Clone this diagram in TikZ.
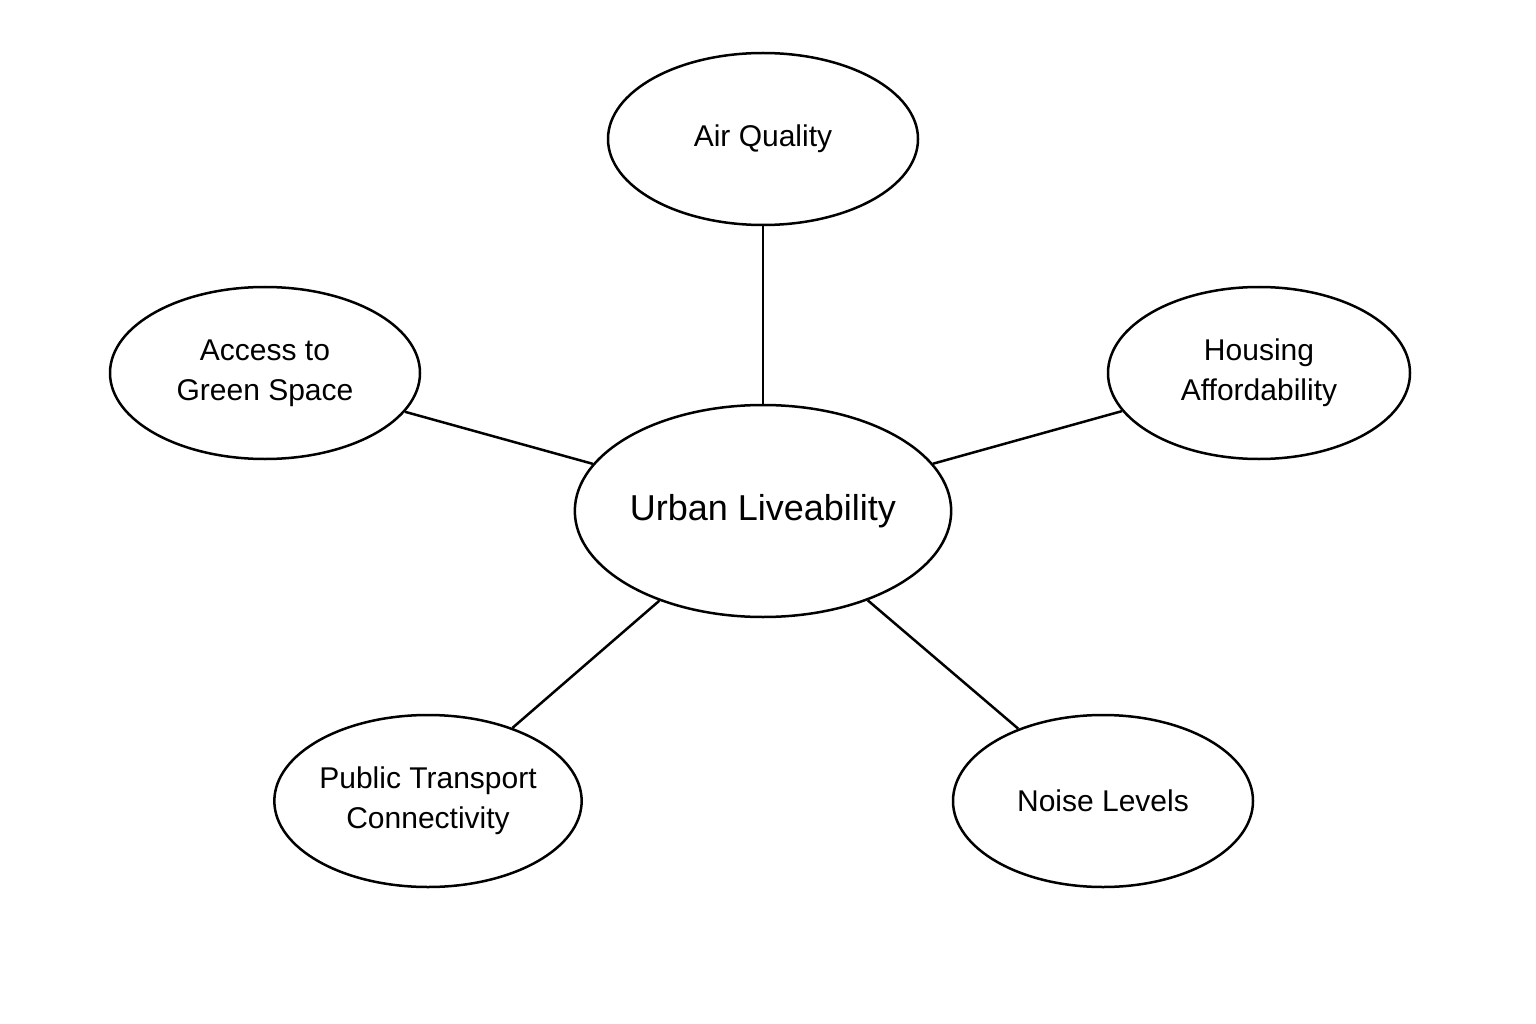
\documentclass[tikz,border=0pt]{standalone}
\usepackage{fontspec}
\setmainfont{Liberation Sans}
\usetikzlibrary{shapes.geometric}
\begin{document}
\begin{tikzpicture}[x=1pt,y=-1pt,
  el/.style={ellipse,draw,line width=2.5pt,inner sep=0pt,align=center,font=\fontsize{30}{40}\selectfont},
  ln/.style={line width=2.5pt}]
\useasboundingbox (0,0) rectangle (1536,1024);
\node[el,minimum width=310pt,minimum height=172pt] (air) at (763,139) {Air Quality};
\node[el,minimum width=310pt,minimum height=172pt] (green) at (265,373) {Access to\\Green Space};
\node[el,minimum width=302pt,minimum height=172pt] (house) at (1259,373) {Housing\\Affordability};
\node[el,minimum width=360pt,minimum height=212pt,font=\fontsize{36}{44}\selectfont] (c) at (763,511) {Urban Liveability};
\node[el,minimum width=306pt,minimum height=172pt] (pt) at (428,801) {Public Transport\\Connectivity};
\node[el,minimum width=300pt,minimum height=172pt] (noise) at (1103,801) {Noise Levels};
\draw[ln] (c) -- (air);
\draw[ln] (c) -- (green);
\draw[ln] (c) -- (house);
\draw[ln] (c) -- (pt);
\draw[ln] (c) -- (noise);
\end{tikzpicture}
\end{document}
